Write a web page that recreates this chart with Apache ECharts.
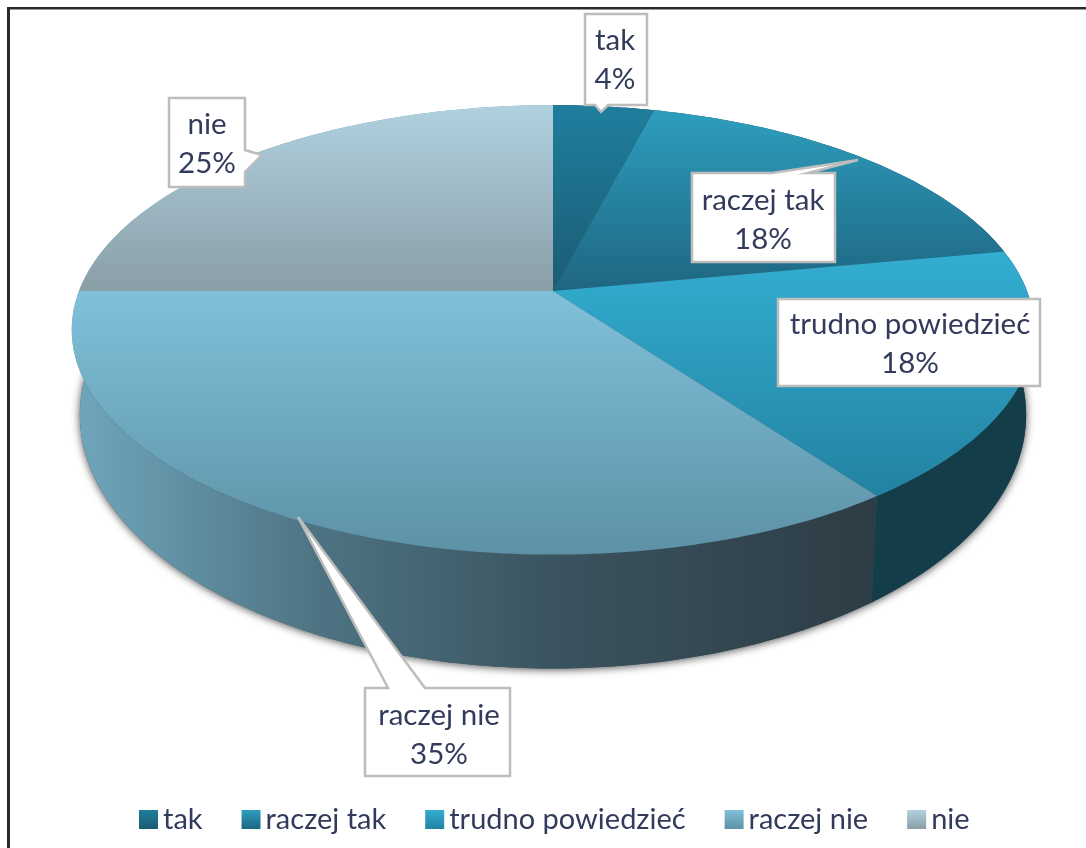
<!DOCTYPE html>
<html>
<head>
<meta charset="utf-8">
<style>
html,body{margin:0;padding:0;background:#fff;}
#c{width:1086px;height:848px;filter:blur(0.6px);}
</style>
<script src="https://cdn.jsdelivr.net/npm/echarts@6/dist/echarts.min.js"></script>
</head>
<body>
<div id="c"></div>
<script>
var categories = ['tak', 'raczej tak', 'trudno powiedzieć', 'raczej nie', 'nie'];
var shares = [4, 18, 18, 35, 25];

var topStart = ['#1f7e9d', '#2e9ebe', '#33aed2', '#80c1da', '#b0d1df'];
var topEnd = ['#1b5c74', '#1e6680', '#2382a1', '#5d91a6', '#8a9ea7'];
var wallStops = [
  [[0, '#184c5e'], [1, '#143f4e']],
  [[0, '#184c5e'], [1, '#143f4e']],
  [[0, '#103a46'], [1, '#143d4a']],
  [[0, '#6fa5bb'], [0.3, '#4d7382'], [0.6, '#3a535e'], [1, '#2d3c45']],
  [[0, '#6fa5bb'], [1, '#6fa5bb']]
];

var FONT = '29.5px Lato, "Noto Sans", sans-serif';
var TEXT = '#333b5c';
var top3d = {cx: 553, cy: 291, A: 218, B: 474, k: 0.173};
var low3d = {cx: 553, cy: 371, A: 246, B: 466, k: 0.173};
var wallX = [80, 880];

var callouts = [
  {box: [585, 14, 647, 105], side: 'bottom', base: [595, 608], tip: [601, 112], cx: 615, cy: 60},
  {box: [692, 173, 835, 262], side: 'top', base: [772, 808], tip: [858, 160], cx: 763, cy: 220},
  {box: [778, 299, 1040, 386], side: null, cx: 910, cy: 344},
  {box: [365, 688, 510, 776], side: 'top', base: [388, 425], tip: [298, 517], cx: 439, cy: 735},
  {box: [169, 98, 245, 187], side: 'right', base: [150, 172], tip: [262, 155], cx: 207, cy: 144}
];

function project(g, deg) {
  var t = deg * Math.PI / 180, x = Math.sin(t), y = Math.cos(t), d = 1 + g.k * y;
  return [g.cx + g.B * x / d, g.cy - g.A * y / d];
}
function arc(g, a0, a1) {
  var pts = [], n = Math.max(2, Math.ceil(Math.abs(a1 - a0)));
  for (var i = 0; i <= n; i++) pts.push(project(g, a0 + (a1 - a0) * i / n));
  return pts;
}
function grad(x0, y0, x1, y1, stops) {
  return new echarts.graphic.LinearGradient(x0, y0, x1, y1, stops.map(function (s) {
    return {offset: s[0], color: s[1]};
  }), true);
}
function outline(c) {
  var b = c.box, x0 = b[0], y0 = b[1], x1 = b[2], y1 = b[3], p = [];
  p.push([x0, y0]);
  if (c.side === 'top') p.push([c.base[0], y0], c.tip, [c.base[1], y0]);
  p.push([x1, y0]);
  if (c.side === 'right') p.push([x1, c.base[0]], c.tip, [x1, c.base[1]]);
  p.push([x1, y1]);
  if (c.side === 'bottom') p.push([c.base[1], y1], c.tip, [c.base[0], y1]);
  p.push([x0, y1]);
  return p;
}

var total = shares.reduce(function (s, v) { return s + v; }, 0);

function makeRender(idx) {
  return function (params, api) {
    var before = 0;
    for (var i = 0; i < idx; i++) before += shares[i];
    var a0 = before / total * 360;
    var a1 = a0 + api.value(0) / total * 360;
    var topArc = arc(top3d, a0, a1), lowArc = arc(low3d, a0, a1);
    var ys = topArc.map(function (p) { return p[1]; }).concat([top3d.cy]);
    var yMin = Math.min.apply(null, ys), yMax = Math.max.apply(null, ys);
    var kids = [];
    if (idx === 0) {
      kids.push({
        type: 'polygon', z2: 1, silent: true,
        shape: {points: arc(low3d, 0, 360)},
        style: {fill: '#3a535e', shadowBlur: 8, shadowColor: 'rgba(0,0,0,0.7)', shadowOffsetY: 1, shadowOffsetX: 0}
      });
    }
    kids.push({
      type: 'polygon', z2: 2, silent: true,
      shape: {points: topArc.concat(lowArc.slice().reverse())},
      style: {fill: grad(wallX[0], 0, wallX[1], 0, wallStops[idx])}
    });
    kids.push({
      type: 'polygon', z2: 3, silent: true,
      shape: {points: [[top3d.cx, top3d.cy]].concat(topArc)},
      style: {fill: grad(0, yMin, 0, yMax, [[0, topStart[idx]], [1, topEnd[idx]]])}
    });
    var c = callouts[idx];
    kids.push({
      type: 'polygon', z2: 5, silent: true,
      shape: {points: outline(c)},
      style: {fill: '#fff', stroke: '#bdbdbd', lineWidth: 2.5, lineJoin: 'miter'}
    });
    kids.push({
      type: 'text', z2: 6, silent: true,
      style: {
        x: c.cx, y: c.cy, text: categories[idx] + '\n' + shares[idx] + '%',
        font: FONT, lineHeight: 39, fill: TEXT, align: 'center', verticalAlign: 'middle'
      }
    });
    return {type: 'group', children: kids};
  };
}

var chart = echarts.init(document.getElementById('c'), null, {renderer: 'canvas'});
chart.setOption({
  animation: false,
  backgroundColor: '#fff',
  legend: {
    data: categories, left: 134, top: 800, itemWidth: 19, itemHeight: 19, itemGap: 39,
    icon: 'rect', selectedMode: false,
    textStyle: {color: TEXT, fontFamily: 'Lato, "Noto Sans", sans-serif', fontSize: 29}
  },
  graphic: [
    {type: 'rect', silent: true, shape: {x: 7, y: 7, width: 3, height: 841}, style: {fill: '#2a2a2a'}},
    {type: 'rect', silent: true, shape: {x: 7, y: 7, width: 1079, height: 2.5}, style: {fill: '#2a2a2a'}}
  ],
  series: categories.map(function (name, i) {
    return {
      type: 'custom', name: name, coordinateSystem: 'none',
      data: [[shares[i]]], renderItem: makeRender(i), clip: false, silent: true,
      itemStyle: {color: new echarts.graphic.LinearGradient(0, 0, 0, 1, [
        {offset: 0, color: topStart[i]}, {offset: 1, color: topEnd[i]}
      ])}
    };
  })
});
</script>
</body>
</html>
